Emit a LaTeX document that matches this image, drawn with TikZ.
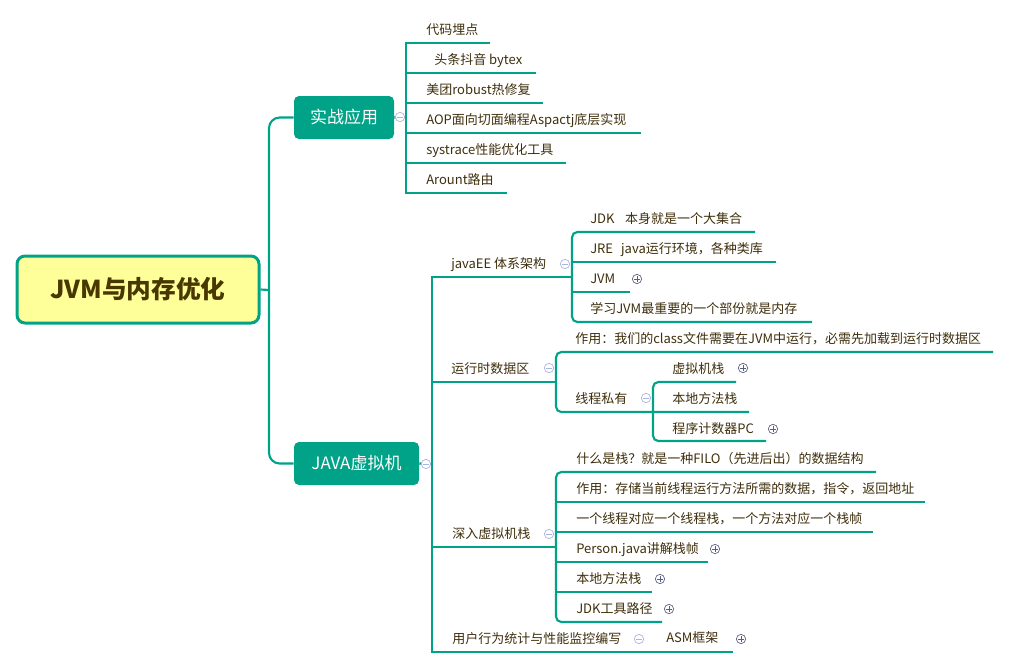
\documentclass[tikz,border=0pt]{standalone}
\usepackage{fontspec}
\setmainfont{Noto Sans CJK SC}
\definecolor{teal1}{RGB}{0,163,136}
\definecolor{txt}{RGB}{62,46,12}
\definecolor{rootfill}{RGB}{255,255,153}
\definecolor{roottxt}{RGB}{72,56,0}
\definecolor{minusc}{RGB}{170,180,225}
\definecolor{plusc}{RGB}{90,95,130}
\begin{document}
\begin{tikzpicture}[x=0.75pt,y=-0.75pt,
  conn/.style={draw=teal1,line width=1.6pt},
  leaf/.style={anchor=west,inner sep=0pt,text=txt,font=\fontsize{9.75}{11}\selectfont,text height=8.6pt,text depth=1.2pt},
  mainbox/.style={fill=teal1,rounded corners=3.75pt,text=white,font=\fontsize{12.75}{14}\selectfont,minimum height=32.25pt,inner sep=0pt},
  rootbox/.style={draw=teal1,fill=rootfill,line width=2.25pt,rounded corners=6pt,minimum width=181.5pt,minimum height=50.25pt,inner sep=0pt,text=roottxt,font=\fontsize{18.5}{22}\selectfont\bfseries},
  colminus/.style={circle,draw=minusc,fill=white,line width=0.5pt,minimum size=7pt,inner sep=0pt,
    path picture={\draw[minusc,line width=0.6pt] ([xshift=-2pt]path picture bounding box.center) -- ([xshift=2pt]path picture bounding box.center);}},
  colplus/.style={circle,draw=plusc,fill=white,line width=0.5pt,minimum size=7pt,inner sep=0pt,
    path picture={\draw[plusc,line width=0.6pt] ([xshift=-2pt]path picture bounding box.center) -- ([xshift=2pt]path picture bounding box.center) ([yshift=-2pt]path picture bounding box.center) -- ([yshift=2pt]path picture bounding box.center);}}]
\useasboundingbox (0,0) rectangle (1011,668);

% main nodes
\node[rootbox] (root) at (138,289.5) {JVM与内存优化};
\node[mainbox,minimum width=75pt] (sz) at (344,117.5) {实战应用};
\node[mainbox,minimum width=93.75pt] (jv) at (356.5,463.5) {JAVA虚拟机};

% trunk
\coordinate (tr) at (269,290);
\draw[conn] (root.east) -- (tr);
\draw[conn,rounded corners=8pt] (sz.west) -| (tr) |- (jv.west);

% 实战应用 branch
\coordinate (szv) at (406,117);
\draw[conn] (sz.east) -- (szv);
\node[leaf] (a1) at (426,30) {代码埋点};
\node[leaf] (a2) at (434,60) {头条抖音 bytex};
\node[leaf] (a3) at (426,90) {美团robust热修复};
\node[leaf] (a4) at (426,120) {AOP面向切面编程Aspactj底层实现};
\node[leaf] (a5) at (426,150) {systrace性能优化工具};
\node[leaf] (a6) at (426,180) {Arount路由};
\draw[conn] (490,43) -- (406,43) -- (406,193) -- (507,193);
\draw[conn] (406,73) -- (536,73);
\draw[conn] (406,103) -- (543,103);
\draw[conn] (406,133) -- (641,133);
\draw[conn] (406,163) -- (566,163);

% JAVA虚拟机 branch
\coordinate (jvv) at (432,464);
\draw[conn] (jv.east) -- (jvv);
\draw[conn] (572,277) -- (432,277) -- (432,652) -- (733,652);
\draw[conn] (432,382) -- (556,382);
\draw[conn] (432,547) -- (556,547);

\node[leaf] (b1) at (451,264) {javaEE 体系架构};
\node[leaf] (b2) at (451,369) {运行时数据区};
\node[leaf] (b3) at (452,534) {深入虚拟机栈};
\node[leaf] (b4) at (452,639) {用户行为统计与性能监控编写};

% javaEE children
\node[leaf] (c1) at (590,219) {JDK\hspace{8pt}本身就是一个大集合};
\node[leaf] (c2) at (590,249) {JRE\hspace{6pt}java运行环境，各种类库};
\node[leaf] (c3) at (590,279) {JVM};
\node[leaf] (c4) at (590,309) {学习JVM最重要的一个部份就是内存};
\draw[conn,rounded corners=4pt] (755,232) -- (572,232) -- (572,322) -- (812,322);
\draw[conn] (572,262) -- (776,262);
\draw[conn] (572,292) -- (630,292);

% 运行时数据区 children
\node[leaf] (d1) at (575,339) {作用：我们的class文件需要在JVM中运行，必需先加载到运行时数据区};
\node[leaf] (d2) at (575,399) {线程私有};
\draw[conn,rounded corners=4pt] (993,352) -- (556,352) -- (556,412) -- (749,412);

% 线程私有 children
\node[leaf] (e1) at (672,369) {虚拟机栈};
\node[leaf] (e2) at (672,399) {本地方法栈};
\node[leaf] (e3) at (672,429) {程序计数器PC};
\draw[conn,rounded corners=4pt] (736,382) -- (653,382) -- (653,441) -- (766,441);
\draw[conn] (653,400) -- (653,412);

% 深入虚拟机栈 children
\node[leaf] (f1) at (576,459) {什么是栈？就是一种FILO（先进后出）的数据结构};
\node[leaf] (f2) at (576,489) {作用：存储当前线程运行方法所需的数据，指令，返回地址};
\node[leaf] (f3) at (576,519) {一个线程对应一个线程栈，一个方法对应一个栈帧};
\node[leaf] (f4) at (576,549) {Person.java讲解栈帧};
\node[leaf] (f5) at (576,579) {本地方法栈};
\node[leaf] (f6) at (576,609) {JDK工具路径};
\draw[conn,rounded corners=4pt] (876,472) -- (556,472) -- (556,622) -- (662,622);
\draw[conn] (556,502) -- (925,502);
\draw[conn] (556,532) -- (873,532);
\draw[conn] (556,562) -- (708,562);
\draw[conn] (556,592) -- (652,592);

% 用户行为 child
\node[leaf] (g1) at (666,638) {ASM框架};

% collapse / expand icons
\node[colminus] (m1) at (400,117) {};
\node[colminus] (m2) at (426,464) {};
\node[colminus] (m3) at (565,264) {};
\node[colminus] (m4) at (549,368) {};
\node[colminus] (m5) at (646,398) {};
\node[colminus] (m6) at (549,534) {};
\node[colminus] (m7) at (639,639) {};
\node[colplus] (p1) at (637,279) {};
\node[colplus] (p2) at (743,368) {};
\node[colplus] (p3) at (773,429) {};
\node[colplus] (p4) at (715,549) {};
\node[colplus] (p5) at (660,579) {};
\node[colplus] (p6) at (669,609) {};
\node[colplus] (p7) at (741,639) {};
\end{tikzpicture}
\end{document}
